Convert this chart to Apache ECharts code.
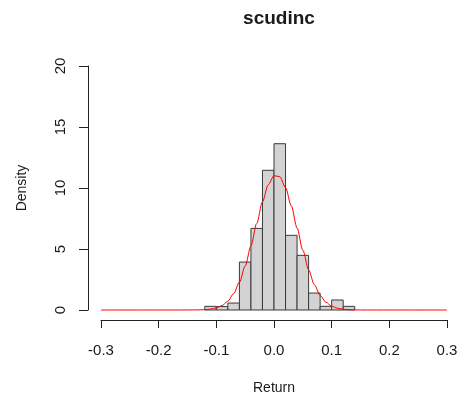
<!DOCTYPE html>
<html>
<head>
<meta charset="utf-8">
<script src="https://cdn.jsdelivr.net/npm/echarts@6/dist/echarts.min.js"></script>
<style>
  html, body { margin: 0; padding: 0; background: #fff; }
  #chart { width: 460px; height: 396px; }
</style>
</head>
<body>
<div id="chart"></div>
<script>
// histogram bins (left edges, width 0.02) and densities
const binWidth = 0.02;
const binStarts = [-0.12, -0.10, -0.08, -0.06, -0.04, -0.02, 0.00, 0.02, 0.04, 0.06, 0.08, 0.10, 0.12];
const densities = [0.30, 0.28, 0.57, 3.93, 6.69, 11.45, 13.63, 6.12, 4.48, 1.39, 0.30, 0.82, 0.30];

// red fitted curve
const curveX = [-0.30, -0.20, -0.15, -0.13, -0.12, -0.11, -0.10, -0.09, -0.08, -0.07, -0.06, -0.05, -0.04,
  -0.03, -0.02, -0.01, 0.00, 0.01, 0.02, 0.03, 0.04, 0.05, 0.06, 0.07, 0.08, 0.09, 0.10, 0.11, 0.12,
  0.13, 0.14, 0.16, 0.20, 0.30];
const curveY = [0, 0, 0.002, 0.011, 0.029, 0.074, 0.171, 0.367, 0.728, 1.34, 2.28, 3.60, 5.25,
  7.09, 8.87, 10.27, 11.01, 10.93, 10.04, 8.54, 6.72, 4.90, 3.30, 2.07, 1.19, 0.639, 0.317, 0.145, 0.062,
  0.024, 0.009, 0.001, 0, 0];

const xTicks = [-0.3, 0.3, 0.1];
const yTicks = [0, 20, 5];

const chart = echarts.init(document.getElementById("chart"), null, { renderer: "canvas" });

const textColor = "#1a1a1a";
const font = "Liberation Sans, Arial, sans-serif";

chart.setOption({
  animation: false,
  backgroundColor: "#ffffff",
  title: {
    text: "scudinc",
    left: 274,
    top: 4,
    textAlign: "center",
    textStyle: { fontFamily: font, fontSize: 19, fontWeight: "bold", color: textColor },
  },
  grid: { left: 101, top: 66, width: 346, height: 244, containLabel: false, outerBoundsMode: "none" },
  xAxis: {
    type: "value",
    min: xTicks[0],
    max: xTicks[1],
    interval: xTicks[2],
    offset: 10,
    name: "Return",
    nameLocation: "middle",
    nameGap: 61,
    nameTextStyle: { fontFamily: font, fontSize: 14, color: textColor },
    axisLine: { show: true, onZero: false, lineStyle: { color: "#222", width: 1 } },
    axisTick: { show: true, length: 8, lineStyle: { color: "#222" } },
    axisLabel: {
      margin: 23,
      fontFamily: font,
      fontSize: 15,
      color: textColor,
      formatter: (v) => v.toFixed(1),
    },
    splitLine: { show: false },
  },
  yAxis: {
    type: "value",
    min: yTicks[0],
    max: yTicks[1],
    interval: yTicks[2],
    offset: 13,
    name: "Density",
    nameLocation: "middle",
    nameGap: 59,
    nameTextStyle: { fontFamily: font, fontSize: 14, color: textColor },
    axisLine: { show: true, onZero: false, lineStyle: { color: "#222", width: 1 } },
    axisTick: { show: true, length: 9, lineStyle: { color: "#222" } },
    axisLabel: {
      rotate: 90,
      margin: 20,
      fontFamily: font,
      fontSize: 15,
      color: textColor,
    },
    splitLine: { show: false },
  },
  series: [
    {
      type: "custom",
      data: binStarts.map((x, i) => [x, densities[i]]),
      encode: { x: 0, y: 1 },
      renderItem: (params, api) => {
        const x0 = api.value(0);
        const h = api.value(1);
        const p0 = api.coord([x0, h]);
        const p1 = api.coord([x0 + binWidth, 0]);
        return {
          type: "rect",
          shape: { x: p0[0], y: p0[1], width: p1[0] - p0[0], height: p1[1] - p0[1] },
          style: { fill: "#d3d3d3", stroke: "#3a3a3a", lineWidth: 1 },
        };
      },
      clip: false,
      z: 1,
    },
    {
      type: "line",
      data: curveX.map((x, i) => [x, curveY[i]]),
      showSymbol: false,
      smooth: 0.3,
      smoothMonotone: "x",
      clip: false,
      lineStyle: { color: "#ff0000", width: 1 },
      z: 2,
    },
  ],
});
</script>
</body>
</html>
